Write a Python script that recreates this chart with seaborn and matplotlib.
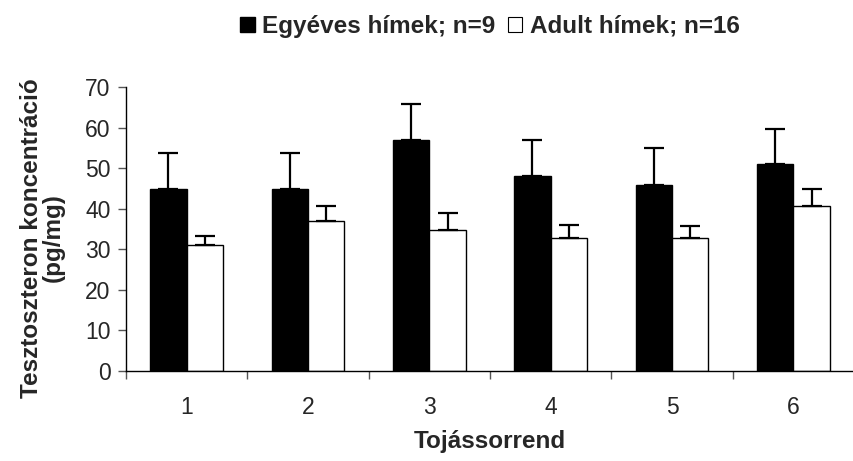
import matplotlib
matplotlib.use("Agg")
import matplotlib.pyplot as plt
import seaborn as sns
import pandas as pd
import numpy as np
from matplotlib.patches import Patch

categories = ["1", "2", "3", "4", "5", "6"]
series_names = ["Egyéves hímek; n=9", "Adult hímek; n=16"]
yearling_mean = [45.0, 45.0, 57.0, 48.2, 46.0, 51.0]
yearling_err = [8.8, 8.8, 8.9, 8.8, 9.1, 8.8]
adult_mean = [31.0, 37.0, 34.7, 32.9, 32.9, 40.8]
adult_err = [2.3, 3.7, 4.2, 3.2, 2.8, 4.2]

sns.set_theme(style="white")
plt.rcParams['font.family'] = ['Liberation Sans', 'DejaVu Sans']

df = pd.DataFrame({
    "cat": categories * 2,
    "series": [series_names[0]] * 6 + [series_names[1]] * 6,
    "value": yearling_mean + adult_mean,
})

fig = plt.figure(figsize=(8.54, 4.61), dpi=100)
ax = fig.add_axes([0.1475, 0.1952, 0.8525, 0.6154])

sns.barplot(data=df, x="cat", y="value", hue="series", order=categories,
            hue_order=series_names, palette=["black", "white"], width=0.6,
            edgecolor="black", linewidth=1.0, errorbar=None, ax=ax,
            legend=False, saturation=1)

errs = [yearling_err, adult_err]
means = [yearling_mean, adult_mean]
bar_containers = list(ax.containers)
for s, cont in enumerate(bar_containers):
    xs = [p.get_x() + p.get_width() / 2 for p in cont.patches]
    ax.errorbar(xs, means[s], yerr=[np.zeros(6), errs[s]], fmt="none",
                ecolor="black", elinewidth=1.6, capsize=7, capthick=1.6,
                zorder=1)

ax.set_ylim(0, 70)
ax.set_yticks(range(0, 71, 10))
ax.set_xlim(-0.5, 5.43)
ax.set_xticks(np.arange(-0.5, 6, 1.0), minor=False)
ax.set_xticklabels([])
ax.set_xticks(range(6), minor=True)
ax.set_xticklabels(categories, minor=True)
ax.tick_params(axis="x", which="major", direction="out", length=6, width=1, color="#555555", bottom=True)
ax.tick_params(axis="x", which="minor", length=0, labelsize=16.5, pad=18, bottom=True)
ax.tick_params(axis="y", direction="out", length=6, width=1, color="#555555", labelsize=16.5, left=True, pad=5)

for side in ["top", "right"]:
    ax.spines[side].set_visible(False)
for side in ["left", "bottom"]:
    ax.spines[side].set_color("black")
    ax.spines[side].set_linewidth(1.0)

ax.set_ylabel("Tesztoszteron koncentráció\n(pg/mg)", fontsize=17.5, fontweight="bold", linespacing=0.95)
ax.yaxis.set_label_coords(-0.084, 0.47)
ax.set_xlabel("Tojássorrend", fontsize=17.5, fontweight="bold", labelpad=8)

handles = [Patch(facecolor="black", edgecolor="black"),
           Patch(facecolor="white", edgecolor="black", linewidth=0.8)]
ax.legend(handles, series_names, loc="center", bbox_to_anchor=(0.5, 1.215),
          ncol=2, frameon=False, handlelength=0.6, handleheight=0.6,
          handletextpad=0.3, columnspacing=0.5,
          prop={"weight": "bold", "size": 17.5})

fig.savefig("out.png", dpi=100)
